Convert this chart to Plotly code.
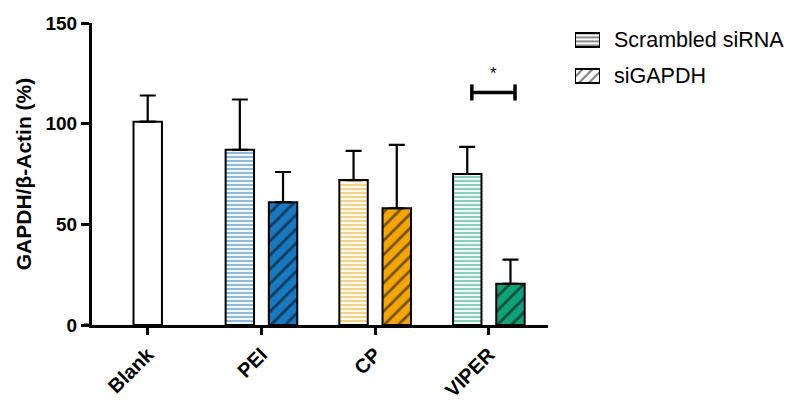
import plotly.graph_objects as go

# ---- data ----
categories = ["Blank", "PEI", "CP", "VIPER"]
blank_value = [101]
blank_err = [13]
scrambled_values = [87, 72, 75]      # PEI, CP, VIPER
scrambled_err = [25, 14.5, 13.5]
sigapdh_values = [61, 58, 20.5]
sigapdh_err = [15, 31.5, 12]
group_colors = ["#1A78BE", "#F2A60A", "#12A079"]
legend_names = ["Scrambled siRNA", "siGAPDH"]
sig_height = 115.5
sig_label = "*"

# ---- layout helpers ----
W, H = 800, 407
ML, MR, MT, MB = 92, 0, 23, 82
PW = W - ML - MR
PH = H - MT - MB
def px_x(p):
    return (p - ML) / PW
def px_y(p):
    return (H - MB - p) / PH

bar_w = 0.25
off = 0.19
font = "Liberation Sans, Arial, sans-serif"

fig = go.Figure()

# Blank bar
fig.add_trace(go.Bar(
    x=[0], y=blank_value, width=bar_w, showlegend=False,
    marker=dict(color="white", line=dict(color="black", width=2)),
    error_y=dict(type="data", symmetric=False, array=blank_err, arrayminus=[0],
                 color="black", thickness=2.2, width=8),
))

for i, (sv, se, gv, ge, c) in enumerate(zip(scrambled_values, scrambled_err,
                                              sigapdh_values, sigapdh_err, group_colors)):
    xc = i + 1
    fig.add_trace(go.Bar(
        x=[xc - off], y=[sv], width=bar_w, showlegend=False,
        marker=dict(color="white", line=dict(color="black", width=2),
                    pattern=dict(shape="-", fgcolor=c, bgcolor="white", size=4, solidity=0.55)),
        error_y=dict(type="data", symmetric=False, array=[se], arrayminus=[0],
                     color="black", thickness=2.2, width=8),
    ))
    fig.add_trace(go.Bar(
        x=[xc + off], y=[gv], width=bar_w, showlegend=False,
        marker=dict(color=c, line=dict(color="black", width=2),
                    pattern=dict(shape="/", fgcolor="black", bgcolor=c, size=10, solidity=0.28)),
        error_y=dict(type="data", symmetric=False, array=[ge], arrayminus=[0],
                     color="black", thickness=2.2, width=8),
    ))

# legend drawn as small bars on a separate axis
fig.add_trace(go.Bar(
    x=[1], y=[1], orientation="h", width=0.39, xaxis="x2", yaxis="y2", showlegend=False,
    marker=dict(color="white", line=dict(color="black", width=2),
                pattern=dict(shape="-", fgcolor="black", bgcolor="white", size=4, solidity=0.45)),
))
fig.add_trace(go.Bar(
    x=[1], y=[0], orientation="h", width=0.39, xaxis="x2", yaxis="y2", showlegend=False,
    marker=dict(color="white", line=dict(color="black", width=2),
                pattern=dict(shape="/", fgcolor="black", bgcolor="white", size=7, solidity=0.3)),
))
for yy, name in zip([1, 0], legend_names):
    fig.add_annotation(xref="paper", yref="y2", x=px_x(612), y=yy, text=name,
                       showarrow=False, xanchor="left", yanchor="middle",
                       font=dict(family=font, size=21.5, color="black"))

# significance bracket (VIPER)
xs0 = 3 - off + 0.04
xs1 = 3 + off + 0.04
fig.add_shape(type="line", x0=xs0, x1=xs1, y0=sig_height, y1=sig_height,
              line=dict(color="black", width=3.5))
for xx in (xs0, xs1):
    fig.add_shape(type="line", x0=xx, x1=xx, y0=sig_height - 4, y1=sig_height + 4,
                  line=dict(color="black", width=3.5))
fig.add_annotation(x=(xs0 + xs1) / 2, y=sig_height + 9.5, text=sig_label, showarrow=False,
                   yanchor="middle", font=dict(family=font, size=17, color="black"))

# x-axis overhang to the left of y-axis
fig.add_shape(type="line", xref="paper", yref="y", x0=-8 / PW, x1=0, y0=0, y1=0,
              line=dict(color="black", width=3))

a = 0.35
fig.update_layout(
    width=W, height=H,
    margin=dict(l=ML, r=MR, t=MT, b=MB, autoexpand=False),
    paper_bgcolor="white", plot_bgcolor="white",
    barmode="overlay", showlegend=False,
    font=dict(family=font, color="black"),
    xaxis=dict(domain=[0, px_x(548)], range=[-0.49, 3.52], tickmode="array",
               tickvals=[0, 1, 2, 3], automargin=False,
               ticktext=categories, tickangle=-45, showgrid=False, zeroline=False,
               showline=True, linecolor="black", linewidth=3,
               ticks="outside", ticklen=7, tickwidth=3, tickcolor="black",
               tickfont=dict(family=font, size=20, color="black", weight="bold")),
    yaxis=dict(range=[0, 150], tickvals=[0, 50, 100, 150], showgrid=False, zeroline=False,
               automargin=False,
               showline=True, linecolor="black", linewidth=3,
               ticks="outside", ticklen=8, tickwidth=3, tickcolor="black",
               tickfont=dict(family=font, size=19, color="black", weight="bold"),
               title=dict(text="GAPDH/β-Actin (%)", standoff=9,
                          font=dict(family=font, size=21, color="black", weight="bold"))),
    xaxis2=dict(domain=[px_x(575), px_x(600)], range=[0, 1], anchor="y2",
                visible=False, fixedrange=True),
    yaxis2=dict(domain=[px_y(40 + 36 * (1 + a)), px_y(40 - 36 * a)], range=[-a, 1 + a],
                anchor="x2", visible=False, fixedrange=True),
)

fig.write_html("out.html", config={"displayModeBar": False},
               post_script="document.body.style.margin='0px';document.body.style.padding='0px';")
